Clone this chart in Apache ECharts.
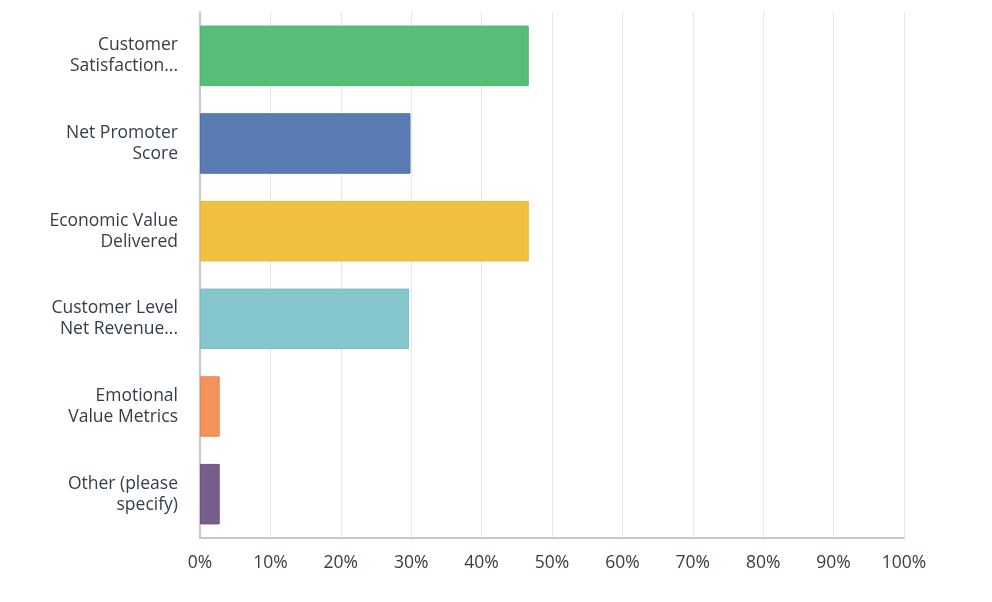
<!DOCTYPE html>
<html>
<head>
<meta charset="utf-8">
<script src="https://cdn.jsdelivr.net/npm/echarts@6/dist/echarts.min.js"></script>
<style>
html,body{margin:0;padding:0;background:#fff;}
#chart{width:992px;height:602px;}
</style>
</head>
<body>
<div id="chart"></div>
<script>
const categories = [
  "Customer\nSatisfaction...",
  "Net Promoter\nScore",
  "Economic Value\nDelivered",
  "Customer Level\nNet Revenue...",
  "Emotional\nValue Metrics",
  "Other (please\nspecify)"
];
const values = [46.7, 29.9, 46.7, 29.7, 2.8, 2.8];
const barColors = ["#57bd77", "#5b7bb3", "#f1c040", "#84c6cc", "#f1935b", "#775e8c"];
const borderColors = ["#4fb56f", "#5070a8", "#e8b737", "#79bcc2", "#ec8750", "#6c5381"];
const xTicks = [0, 10, 20, 30, 40, 50, 60, 70, 80, 90, 100];

const chart = echarts.init(document.getElementById('chart'));
const font = "'Open Sans', Roboto, sans-serif";
chart.setOption({
  animation: false,
  grid: { left: 200, right: 88, top: 12, bottom: 64, containLabel: false },
  xAxis: {
    type: 'value',
    min: xTicks[0],
    max: xTicks[xTicks.length - 1],
    interval: 10,
    axisLine: { show: true, lineStyle: { color: '#c8c8c8', width: 2 } },
    axisTick: { show: false },
    splitLine: { show: true, lineStyle: { color: '#e6e6e6', width: 1 } },
    axisLabel: {
      margin: 16,
      color: '#333e48',
      fontSize: 17.5,
      fontFamily: font,
      formatter: v => v + '%'
    }
  },
  yAxis: {
    type: 'category',
    inverse: true,
    data: categories,
    axisLine: { show: true, lineStyle: { color: '#c8c8c8', width: 2 } },
    axisTick: { show: false },
    axisLabel: {
      margin: 22,
      color: '#333e48',
      fontSize: 17.5,
      lineHeight: 21,
      padding: [4, 0, 0, 0],
      fontFamily: font,
      align: 'right'
    }
  },
  series: [{
    type: 'bar',
    barCategoryGap: '31%',
    data: values.map((v, i) => ({
      value: v,
      itemStyle: { color: barColors[i], borderColor: borderColors[i], borderWidth: 1 }
    }))
  }]
});
</script>
</body>
</html>
